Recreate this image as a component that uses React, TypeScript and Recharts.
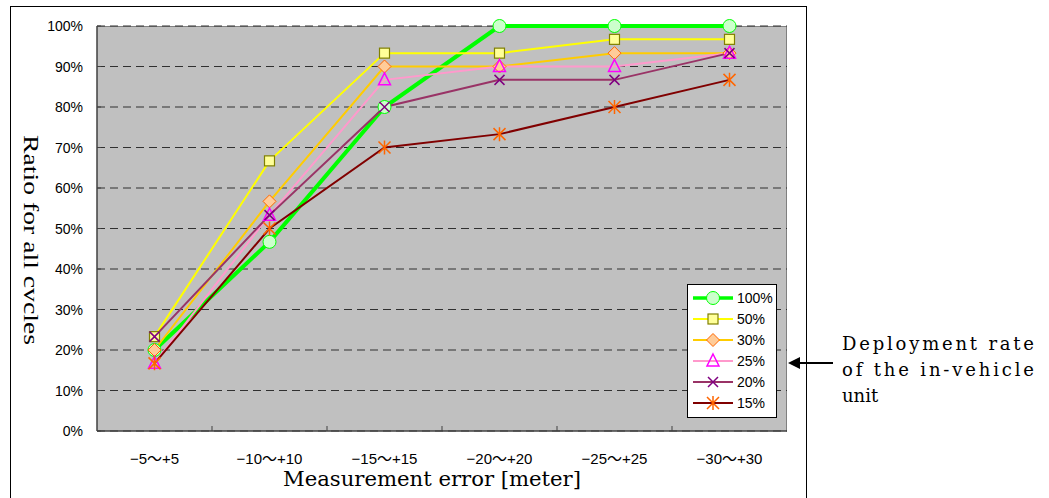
import { LineChart, Line, XAxis, YAxis, CartesianGrid, Legend } from 'recharts';

const categories = ['−5～+5', '−10～+10', '−15～+15', '−20～+20', '−25～+25', '−30～+30'];
const yTicks = [0, 10, 20, 30, 40, 50, 60, 70, 80, 90, 100];

const rate100 = [20, 46.7, 80, 100, 100, 100];
const rate50 = [23.3, 66.7, 93.3, 93.3, 96.7, 96.7];
const rate30 = [20, 56.7, 90, 90, 93.3, 93.3];
const rate25 = [16.7, 53.3, 86.7, 90, 90, 93.3];
const rate20 = [23.3, 53.3, 80, 86.7, 86.7, 93.3];
const rate15 = [16.7, 50, 70, 73.3, 80, 86.7];

type Shape = 'circle' | 'square' | 'diamond' | 'triangle' | 'cross' | 'star';

const series: { key: string; name: string; values: number[]; color: string; width: number; shape: Shape }[] = [
  { key: 'r100', name: '100%', values: rate100, color: '#00ff00', width: 4, shape: 'circle' },
  { key: 'r50', name: '50%', values: rate50, color: '#ffff00', width: 2, shape: 'square' },
  { key: 'r30', name: '30%', values: rate30, color: '#ffcc00', width: 2, shape: 'diamond' },
  { key: 'r25', name: '25%', values: rate25, color: '#ff99cc', width: 2, shape: 'triangle' },
  { key: 'r20', name: '20%', values: rate20, color: '#993366', width: 2, shape: 'cross' },
  { key: 'r15', name: '15%', values: rate15, color: '#800000', width: 2, shape: 'star' },
];

const data = categories.map((cat, i) => {
  const row: Record<string, string | number> = { cat };
  series.forEach((s) => (row[s.key] = s.values[i]));
  return row;
});

const marker = (shape: Shape, cx: number, cy: number, key?: string | number) => {
  switch (shape) {
    case 'circle':
      return <circle key={key} cx={cx} cy={cy} r={6.5} fill="#ccffcc" stroke="#00ff00" strokeWidth={1} />;
    case 'square':
      return <rect key={key} x={cx - 5} y={cy - 5} width={10} height={10} fill="#ffff99" stroke="#808000" strokeWidth={1.2} />;
    case 'diamond':
      return (
        <polygon key={key} points={`${cx},${cy - 6.5} ${cx + 6.5},${cy} ${cx},${cy + 6.5} ${cx - 6.5},${cy}`}
          fill="#ffcc99" stroke="#ff6600" strokeWidth={1} />
      );
    case 'triangle':
      return (
        <polygon key={key} points={`${cx},${cy - 7} ${cx + 6},${cy + 5} ${cx - 6},${cy + 5}`}
          fill="none" stroke="#ff00ff" strokeWidth={1.5} />
      );
    case 'cross':
      return (
        <path key={key} d={`M${cx - 5},${cy - 5}L${cx + 5},${cy + 5}M${cx + 5},${cy - 5}L${cx - 5},${cy + 5}`}
          stroke="#800080" strokeWidth={1.5} />
      );
    default:
      return (
        <path key={key}
          d={`M${cx - 6},${cy - 6}L${cx + 6},${cy + 6}M${cx + 6},${cy - 6}L${cx - 6},${cy + 6}M${cx},${cy - 7}L${cx},${cy + 7}`}
          stroke="#ff6600" strokeWidth={1.5} />
      );
  }
};

const YTick = (props: any) => {
  const { x, y, payload } = props;
  return (
    <g>
      <line x1={97} x2={101} y1={y} y2={y} stroke="#404040" />
      <text x={x} y={y + 5} textAnchor="end" fontSize={14} fill="#000" fontFamily="'Liberation Sans', Arial, sans-serif">
        {`${payload.value}%`}
      </text>
    </g>
  );
};

const XTick = (props: any) => {
  const { x, y, payload, index } = props;
  const half = 57.5;
  return (
    <g>
      {index > 0 && <line x1={x - half} x2={x - half} y1={y} y2={y - 5} stroke="#404040" />}
      <text x={x} y={y + 33} textAnchor="middle" fontSize={15} fill="#000"
        fontFamily="'Liberation Sans', 'Noto Sans CJK JP', sans-serif">
        {payload.value}
      </text>
    </g>
  );
};

const LegendBox = () => (
  <svg width={90} height={134}>
    <rect x={0.5} y={0.5} width={89} height={133} fill="#ffffff" stroke="#000" />
    {series.map((s, i) => {
      const cy = 14 + i * 21;
      return (
        <g key={s.key}>
          <line x1={6} x2={46} y1={cy} y2={cy} stroke={s.color} strokeWidth={s.width === 4 ? 3.5 : 2} />
          {marker(s.shape, 26, cy)}
          <text x={50} y={cy + 5} fontSize={14} fill="#000" fontFamily="'Liberation Sans', Arial, sans-serif">
            {s.name}
          </text>
        </g>
      );
    })}
  </svg>
);

export default function App() {
  return (
    <div style={{ position: 'absolute', left: 0, top: 0, width: 1049, height: 498, background: '#fff', overflow: 'hidden' }}>
      <div style={{ position: 'absolute', left: 10, top: 6, width: 795, height: 520, border: '1px solid #000' }} />
      <div style={{ position: 'absolute', left: 97, top: 26, width: 690, height: 405, background: '#c0c0c0', borderTop: '1px solid #808080', borderRight: '1px solid #808080', boxSizing: 'border-box' }} />
      <div style={{ position: 'absolute', left: 0, top: 0 }}>
        <LineChart width={1049} height={498} data={data} margin={{ top: 26, left: 37, right: 262, bottom: 37 }}>
          <CartesianGrid vertical={false} stroke="#303030" strokeDasharray="8 5" />
          <XAxis dataKey="cat" height={30} tickSize={0} tickMargin={0} axisLine={{ stroke: '#404040', strokeWidth: 1.5 }}
            tick={<XTick />} interval={0} padding={{ left: 57.5, right: 57.5 }} />
          <YAxis width={60} domain={[0, 100]} ticks={yTicks} tickSize={0} tickMargin={14}
            axisLine={{ stroke: '#404040', strokeWidth: 1.5 }} tick={<YTick />} interval={0} />
          <Legend layout="horizontal" verticalAlign="middle" align="center" content={<LegendBox />}
            wrapperStyle={{ position: 'absolute', left: 687, top: 284, width: 90, height: 134 }} />
          {series.map((s) => (
            <Line key={s.key} dataKey={s.key} name={s.name} stroke={s.color} strokeWidth={s.width}
              isAnimationActive={false}
              dot={(p: any) => marker(s.shape, p.cx, p.cy, `${s.key}-${p.index}`)} activeDot={false} />
          ))}
        </LineChart>
      </div>
      <svg width={1049} height={498} style={{ position: 'absolute', left: 0, top: 0, pointerEvents: 'none' }}>
        <text transform="translate(24,240) rotate(90)" textAnchor="middle" fontSize={21} fill="#000"
          fontFamily="'Liberation Serif', 'Times New Roman', serif" textLength={210} lengthAdjust="spacingAndGlyphs">
          Ratio for all cvcles
        </text>
        <text x={432} y={486} textAnchor="middle" fontSize={20} fill="#000"
          fontFamily="'DejaVu Serif', serif" textLength={298} lengthAdjust="spacingAndGlyphs">
          Measurement error [meter]
        </text>
        <line x1={833} x2={798} y1={363} y2={363} stroke="#000" strokeWidth={2} />
        <polygon points="788,363 800,357 800,369" fill="#000" />
        <g fontSize={18} fill="#000" fontFamily="'DejaVu Serif', serif">
          <text x={842} y={350} textLength={192} lengthAdjust="spacing">Deployment rate</text>
          <text x={842} y={376} textLength={192} lengthAdjust="spacing">of the in-vehicle</text>
          <text x={842} y={402}>unit</text>
        </g>
      </svg>
    </div>
  );
}
